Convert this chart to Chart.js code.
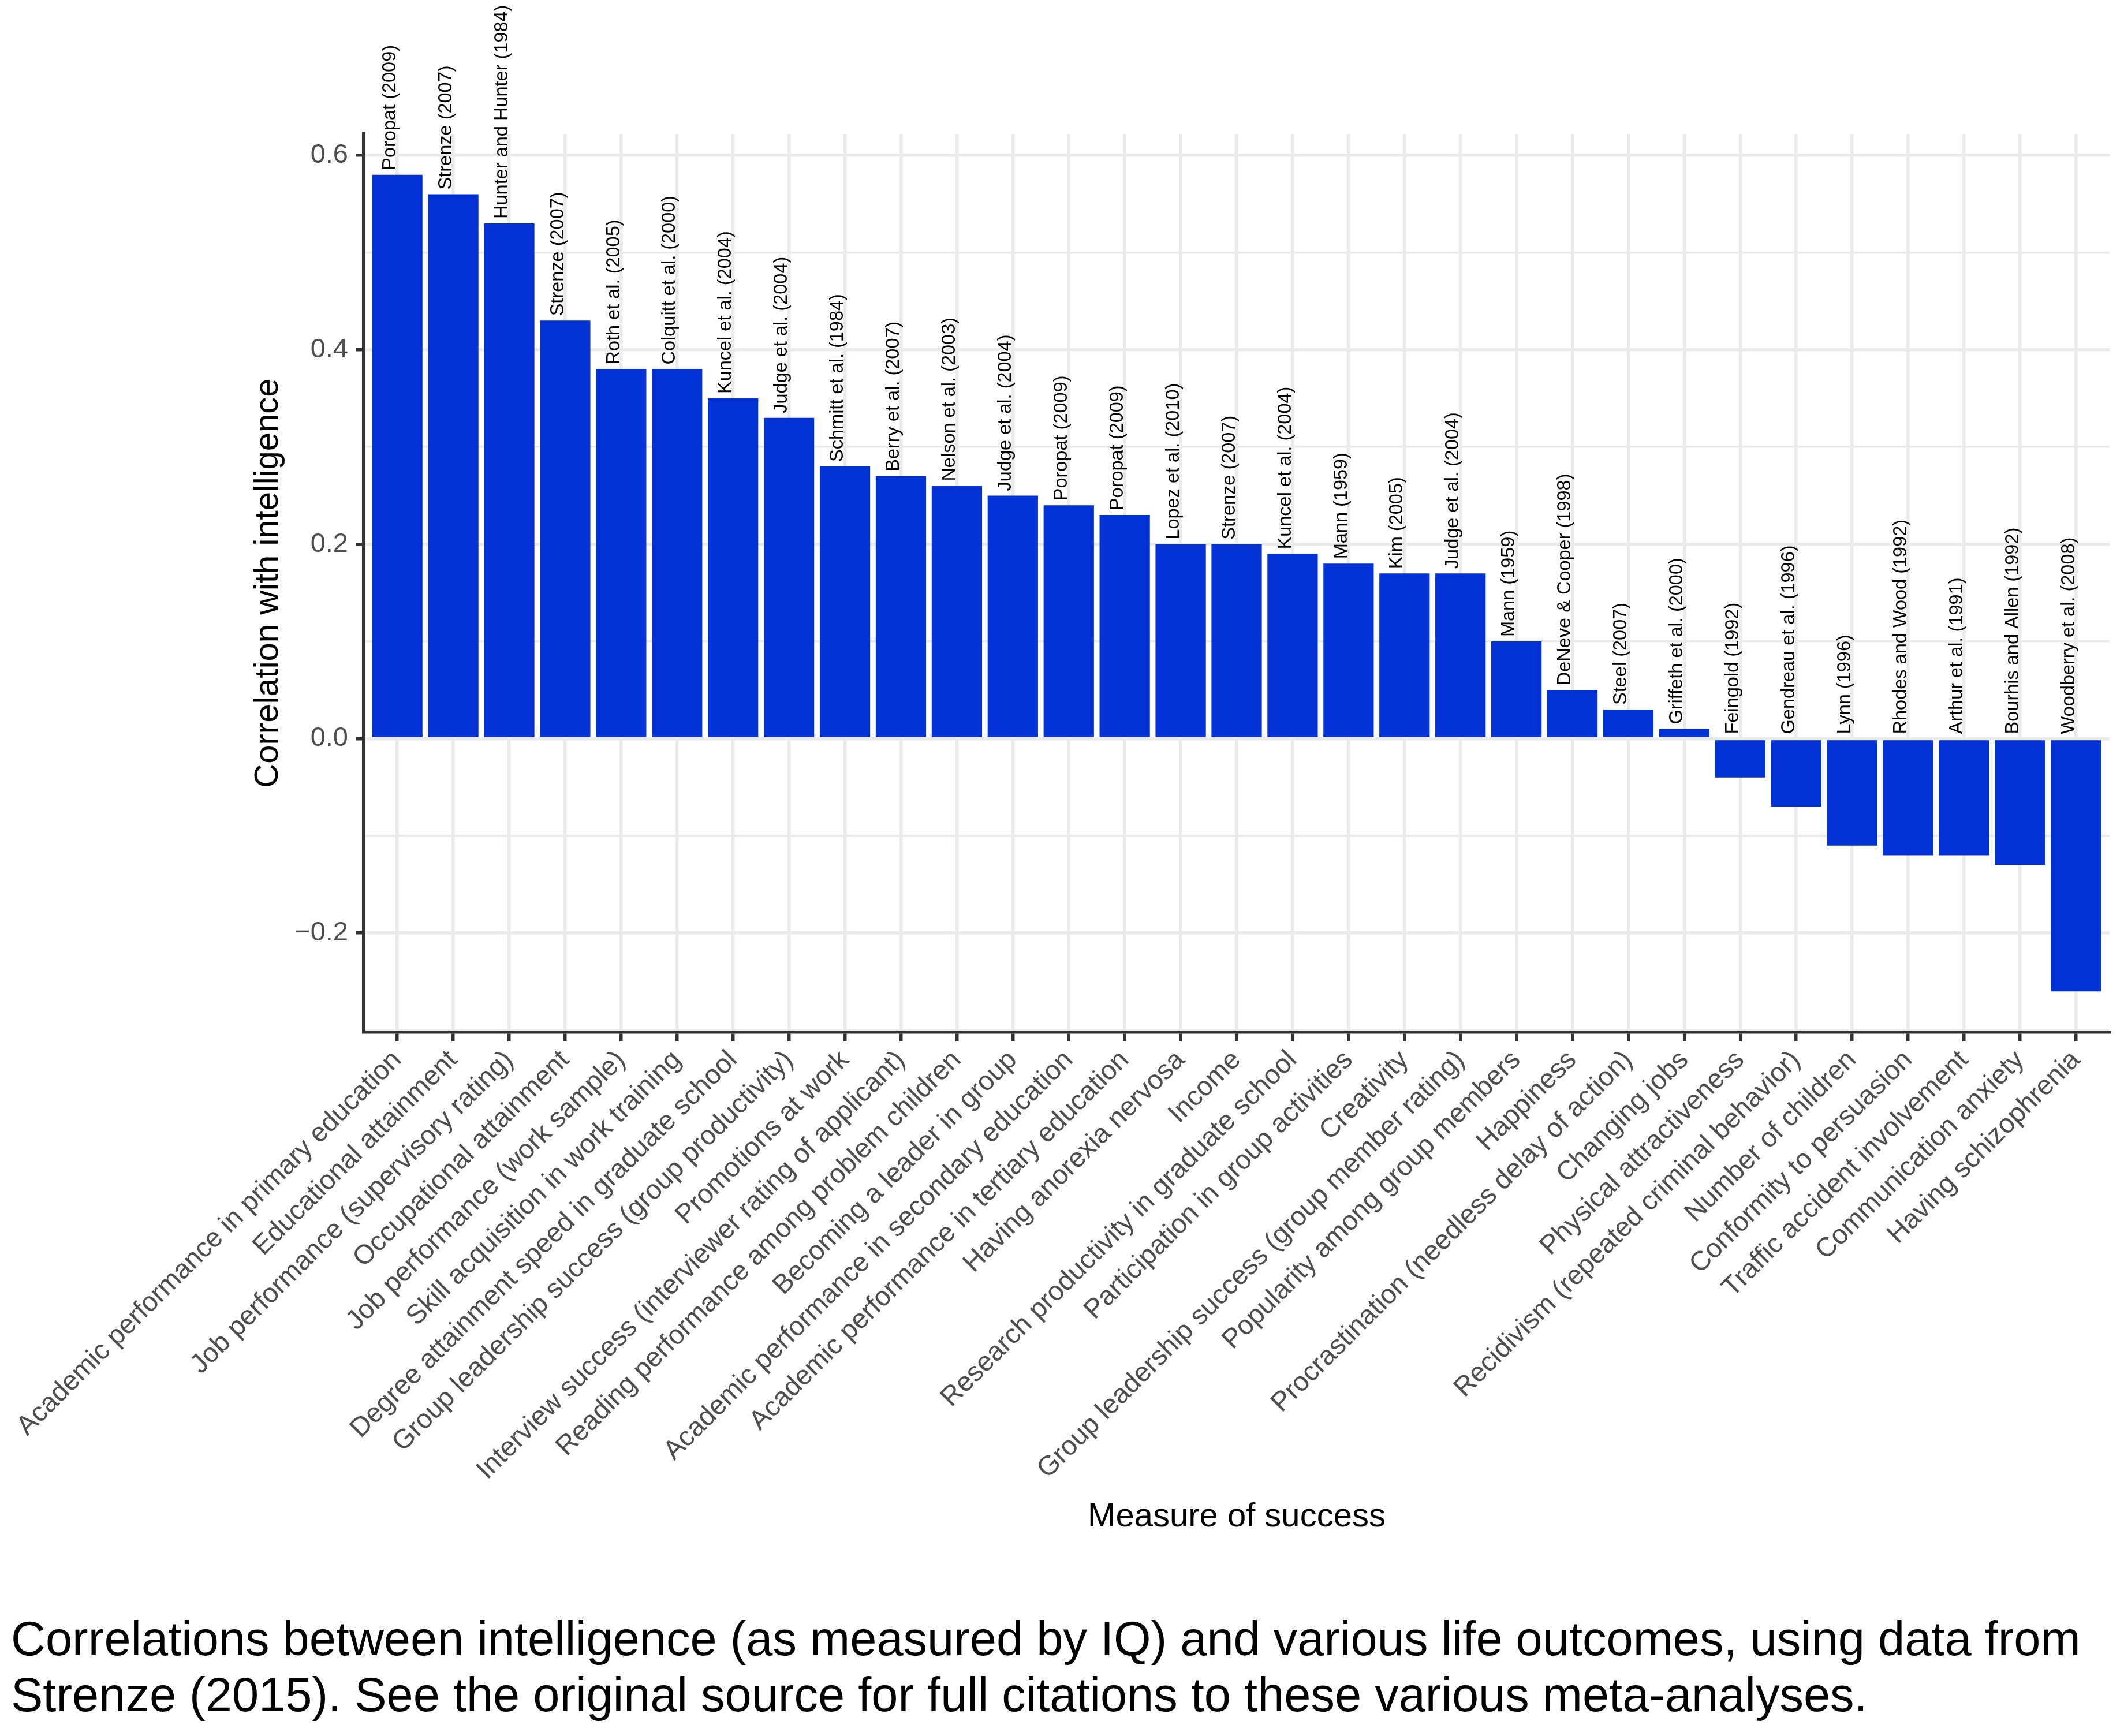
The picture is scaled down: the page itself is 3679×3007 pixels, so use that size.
<!DOCTYPE html>
<html>
<head>
<meta charset="utf-8">
<script src="https://cdn.jsdelivr.net/npm/chart.js@4.4.1/dist/chart.umd.min.js"></script>
<style>
  html, body { margin: 0; padding: 0; background: #fff; }
  #wrap { position: relative; width: 3679px; height: 3007px; background: #fff; }
  #chart { position: absolute; left: 0; top: 0; }
  #caption {
    position: absolute; left: 19px; top: 2790px;
    font-family: 'Liberation Sans', Arial, Helvetica, sans-serif;
    font-size: 83px; line-height: 97px; color: #000;
  }
</style>
</head>
<body>
<div id="wrap">
  <canvas id="chart" width="3679" height="2720"></canvas>
  <div id="caption">Correlations between intelligence (as measured by IQ) and various life outcomes, using data from<br>Strenze (2015). See the original source for full citations to these various meta-analyses.</div>
</div>
<script>
// Chart data
const categories = [
    'Academic performance in primary education',
    'Educational attainment',
    'Job performance (supervisory rating)',
    'Occupational attainment',
    'Job performance (work sample)',
    'Skill acquisition in work training',
    'Degree attainment speed in graduate school',
    'Group leadership success (group productivity)',
    'Promotions at work',
    'Interview success (interviewer rating of applicant)',
    'Reading performance among problem children',
    'Becoming a leader in group',
    'Academic performance in secondary education',
    'Academic performance in tertiary education',
    'Having anorexia nervosa',
    'Income',
    'Research productivity in graduate school',
    'Participation in group activities',
    'Creativity',
    'Group leadership success (group member rating)',
    'Popularity among group members',
    'Happiness',
    'Procrastination (needless delay of action)',
    'Changing jobs',
    'Physical attractiveness',
    'Recidivism (repeated criminal behavior)',
    'Number of children',
    'Conformity to persuasion',
    'Traffic accident involvement',
    'Communication anxiety',
    'Having schizophrenia'
];

const correlations = [
    0.58, 0.56, 0.53, 0.43, 0.38, 0.38, 0.35, 0.33, 0.28, 0.27, 0.26,
    0.25, 0.24, 0.23, 0.20, 0.20, 0.19, 0.18, 0.17, 0.17, 0.10,
    0.05, 0.03, 0.01, -0.04, -0.07, -0.11, -0.12, -0.12, -0.13, -0.26
];

const sources = [
    'Poropat (2009)', 'Strenze (2007)', 'Hunter and Hunter (1984)', 'Strenze (2007)',
    'Roth et al. (2005)', 'Colquitt et al. (2000)', 'Kuncel et al. (2004)', 'Judge et al. (2004)',
    'Schmitt et al. (1984)', 'Berry et al. (2007)', 'Nelson et al. (2003)', 'Judge et al. (2004)',
    'Poropat (2009)', 'Poropat (2009)', 'Lopez et al. (2010)', 'Strenze (2007)',
    'Kuncel et al. (2004)', 'Mann (1959)', 'Kim (2005)', 'Judge et al. (2004)',
    'Mann (1959)', 'DeNeve & Cooper (1998)', 'Steel (2007)', 'Griffeth et al. (2000)',
    'Feingold (1992)', 'Gendreau et al. (1996)', 'Lynn (1996)', 'Rhodes and Wood (1992)',
    'Arthur et al. (1991)', 'Bourhis and Allen (1992)', 'Woodberry et al. (2008)'
];

const yMajorTicks = [-0.2, 0, 0.2, 0.4, 0.6];
const yMinorTicks = [-0.3, -0.1, 0.1, 0.3, 0.5];

const FONT = "'Liberation Sans', Arial, Helvetica, sans-serif";
const BAR_BLUE = '#0232d6';
const GRID = '#ebebeb';
const AXIS = '#333333';

const isMajor = (v) => yMajorTicks.some(t => Math.abs(t - v) < 1e-6);

const fmtTick = (v) => {
    const s = Math.abs(v).toFixed(1);
    return v < -1e-9 ? '\u2212' + s : s;
};

// Source labels written upwards from the top of each bar (or from zero for negatives)
const sourceLabels = {
    id: 'sourceLabels',
    afterDatasetsDraw(chart) {
        const ctx = chart.ctx;
        const yScale = chart.scales.y;
        const meta = chart.getDatasetMeta(0);
        ctx.save();
        ctx.font = '32.5px ' + FONT;
        ctx.fillStyle = '#000';
        ctx.textAlign = 'left';
        ctx.textBaseline = 'bottom';
        meta.data.forEach((bar, i) => {
            const y = yScale.getPixelForValue(Math.max(correlations[i], 0)) - 8;
            ctx.save();
            ctx.translate(bar.x + 4, y);
            ctx.rotate(-Math.PI / 2);
            ctx.fillText(sources[i], 0, 0);
            ctx.restore();
        });
        ctx.restore();
    }
};

const ctx = document.getElementById('chart').getContext('2d');
new Chart(ctx, {
    type: 'bar',
    data: {
        datasets: [{
            data: correlations.map((v, i) => ({ x: i, y: v })),
            backgroundColor: BAR_BLUE,
            borderWidth: 0,
            categoryPercentage: 1.0,
            barPercentage: 0.9
        }]
    },
    options: {
        responsive: false,
        devicePixelRatio: 1,
        animation: false,
        layout: {
            padding: { top: 232, left: 0, right: 25, bottom: 0 }
        },
        plugins: {
            legend: { display: false },
            tooltip: { enabled: false }
        },
        scales: {
            x: {
                type: 'linear',
                offset: false,
                min: -0.6,
                max: categories.length - 0.4,
                afterBuildTicks: (s) => {
                    s.ticks = categories.map((c, i) => ({ value: i }));
                },
                afterFit: (s) => {
                    s.height = 932;
                    s.paddingLeft = 0;
                    s.paddingRight = 0;
                },
                ticks: {
                    autoSkip: false,
                    minRotation: 45,
                    maxRotation: 45,
                    padding: 5,
                    color: '#4d4d4d',
                    font: { family: FONT, size: 47 },
                    callback: (v) => categories[v]
                },
                grid: {
                    offset: false,
                    color: GRID,
                    lineWidth: 5.5,
                    tickColor: AXIS,
                    tickLength: 16,
                    tickWidth: 5.5
                },
                border: { display: true, color: AXIS, width: 5.5 },
                title: {
                    display: true,
                    text: 'Measure of success',
                    color: '#000',
                    font: { family: FONT, size: 58 },
                    padding: { top: 0, bottom: 57 }
                }
            },
            y: {
                min: -0.302,
                max: 0.622,
                afterBuildTicks: (s) => {
                    s.ticks = yMinorTicks.concat(yMajorTicks)
                        .sort((a, b) => a - b)
                        .map(v => ({ value: v }));
                },
                afterFit: (s) => {
                    s.width = 630;
                    s.paddingTop = 0;
                    s.paddingBottom = 0;
                },
                ticks: {
                    padding: 13,
                    color: '#4d4d4d',
                    font: { family: FONT, size: 47 },
                    callback: (v) => isMajor(v) ? fmtTick(v) : ''
                },
                grid: {
                    color: GRID,
                    lineWidth: (c) => (c.tick && isMajor(c.tick.value)) ? 5.5 : 3.5,
                    tickColor: (c) => (c.tick && isMajor(c.tick.value)) ? AXIS : 'rgba(0,0,0,0)',
                    tickLength: 14,
                    tickWidth: 5.5
                },
                border: { display: true, color: AXIS, width: 5.5 },
                title: {
                    display: true,
                    text: 'Correlation with intelligence',
                    color: '#000',
                    font: { family: FONT, size: 58 },
                    padding: { top: 430, bottom: 0 }
                }
            }
        }
    },
    plugins: [sourceLabels]
});
</script>
</body>
</html>
